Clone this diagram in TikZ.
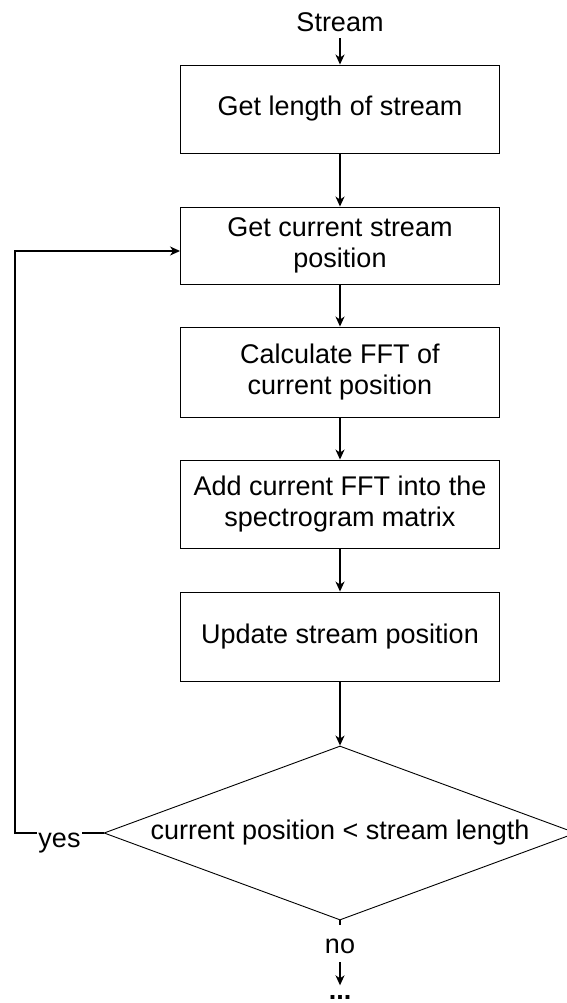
\documentclass[tikz,border=0pt]{standalone}
\usepackage{fontspec}
\setmainfont{Liberation Sans}
\usetikzlibrary{arrows.meta,shapes.geometric}
\begin{document}
\begin{tikzpicture}[x=1pt,y=-1pt,
  font=\fontsize{27}{31}\selectfont,
  stepbox/.style={draw, line width=0.9pt, minimum width=319pt, align=center, inner sep=0pt},
  conn/.style={line width=1.5pt, -{Stealth[length=10pt,width=9pt,inset=3pt]}},
  plain/.style={line width=1.5pt},
  lbl/.style={fill=white, inner ysep=0pt, inner xsep=1.5pt}]
\useasboundingbox (0,0) rectangle (566,1003);

% processing steps
\node[anchor=base, text depth=6pt, inner sep=0pt] (src) at (340,32) {Stream};
\node[stepbox, minimum height=88pt] (b1) at (340,109) {Get length of stream};
\node[stepbox, minimum height=77pt] (b2) at (340,245.5) {Get current stream\\position};
\node[stepbox, minimum height=90pt] (b3) at (340,372) {Calculate FFT of\\current position};
\node[stepbox, minimum height=88pt] (b4) at (340,504) {Add current FFT into the\\spectrogram matrix};
\node[stepbox, minimum height=89pt] (b5) at (340,636.5) {Update stream position};

% loop condition
\node[diamond, draw, line width=0.9pt, minimum width=472pt, minimum height=174pt,
      inner sep=0pt, aspect=2.71] (dec) at (340,833) {current position < stream length};

% forward flow
\draw[conn] (src.south) -- (b1.north);
\draw[conn] (b1) -- (b2);
\draw[conn] (b2) -- (b3);
\draw[conn] (b3) -- (b4);
\draw[conn] (b4) -- (b5);
\draw[conn] (b5) -- (dec.north);

% "yes" branch back to the position step
\coordinate (lp) at (15,833);
\draw[conn] (dec.west) -- (lp) |- ([yshift=-5.5pt]b2.west);
\node[lbl, anchor=base, text height=20pt, text depth=6pt] (yes) at (59.5,847) {yes};

% "no" branch leaves the loop
\node[lbl, anchor=base, text height=28pt, text depth=9pt] (no) at (340,953) {no};
\node[anchor=base, inner sep=0pt, text height=14pt, text depth=0pt] (dots) at (340,999.5) {\textbf{...}};
\draw[plain] (dec.south) -- (no.north);
\draw[conn] (no.south) -- (dots.north);
\end{tikzpicture}
\end{document}
